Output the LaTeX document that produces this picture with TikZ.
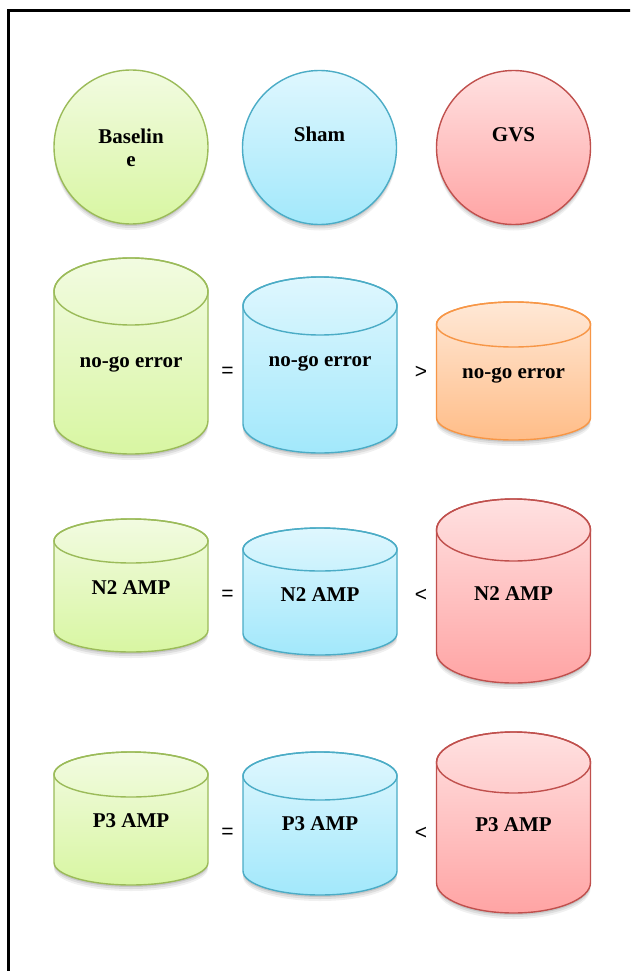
\documentclass[tikz,border=0pt]{standalone}
\usepackage{fontspec}
\setmainfont{Liberation Serif}
\newfontfamily\signfont{Liberation Sans}
\definecolor{gTop}{HTML}{F2FBE1}
\definecolor{gBot}{HTML}{D8F6A2}
\definecolor{gLine}{HTML}{9BBB59}
\definecolor{bTop}{HTML}{DFF7FE}
\definecolor{bBot}{HTML}{A2E8FB}
\definecolor{bLine}{HTML}{4BACC6}
\definecolor{rTop}{HTML}{FFE1E1}
\definecolor{rBot}{HTML}{FFA4A4}
\definecolor{rLine}{HTML}{C0504D}
\definecolor{oTop}{HTML}{FFE8D6}
\definecolor{oBot}{HTML}{FFBD88}
\definecolor{oLine}{HTML}{F79646}
\tikzset{
  lbl/.style={font=\bfseries\fontsize{21}{23}\selectfont, inner sep=0pt, text=black},
  sign/.style={font=\signfont\fontsize{21}{24}\selectfont, inner sep=0pt, text=black},
  shapeline/.style={line width=1.4pt},
}
\newcommand\mycyl[8]{%
  \foreach \s/\o in {2/0.10,4/0.08,6/0.06}{%
    \fill[black,opacity=\o,yshift=-\s pt] (#2-77,#3+#4) -- (#2-77,#5-#4) arc[start angle=180,end angle=0,x radius=77,y radius=#4] -- cycle;
  }
  \path[shapeline, top color=#6Top, bottom color=#6Bot, draw=#6Line]
    (#2-77,#3+#4) -- (#2-77,#5-#4) arc[start angle=180,end angle=0,x radius=77,y radius=#4]
    -- (#2+77,#3+#4) arc[start angle=360,end angle=180,x radius=77,y radius=#4] -- cycle;
  \draw[shapeline, draw=#6Line] (#2,#3+#4) ellipse[x radius=77,y radius=#4];
  \node[lbl, anchor=base] (#1) at (#2,#7) {#8};
}
\newcommand\mycirc[6]{%
  \foreach \s/\o in {2/0.10,4/0.08,6/0.06}{%
    \fill[black,opacity=\o,yshift=-\s pt] (#2,#3) circle[radius=77];
  }
  \path[shapeline, top color=#4Top, bottom color=#4Bot, draw=#4Line] (#2,#3) circle[radius=77];
  \node[lbl, align=center, anchor=base] (#1) at (#2,#5) {#6};
}
\begin{document}
\begin{tikzpicture}[x=1pt,y=-1pt]
\useasboundingbox (0,0) rectangle (630,971);
\clip (0,0) rectangle (630,971);
\fill[white] (0,0) rectangle (630,971);
\draw[line width=2.5pt] (8.7,10.3) rectangle (700,1100);

% circles
\mycirc{cB}{131}{147}{g}{166}{Baselin\\e}
\mycirc{cS}{319.5}{147.5}{b}{141}{Sham}
\mycirc{cG}{513.5}{147.5}{r}{141}{GVS}

% row 1
\mycyl{e1}{131}{258}{33.5}{454}{g}{367}{no-go error}
\mycyl{e2}{320}{277}{29}{453}{b}{366}{no-go error}
\mycyl{e3}{513.5}{302}{22.5}{440}{o}{378}{no-go error}
\node[sign] (s11) at (227.5,372) {=};
\node[sign] (s12) at (421,372) {>};

% row 2
\mycyl{n1}{131}{519}{22}{652}{g}{594}{N2 AMP}
\mycyl{n2}{320}{528}{21.5}{655}{b}{601}{N2 AMP}
\mycyl{n3}{513.5}{499}{31}{683}{r}{600}{N2 AMP}
\node[sign] (s21) at (227.5,595) {=};
\node[sign] (s22) at (421,595) {<};

% row 3
\mycyl{p1}{131}{752}{22.5}{885}{g}{827}{P3 AMP}
\mycyl{p2}{320}{752}{24}{895}{b}{830}{P3 AMP}
\mycyl{p3}{513.5}{732}{30.5}{913}{r}{831}{P3 AMP}
\node[sign] (s31) at (227.5,833) {=};
\node[sign] (s32) at (421,833) {<};
\end{tikzpicture}
\end{document}
